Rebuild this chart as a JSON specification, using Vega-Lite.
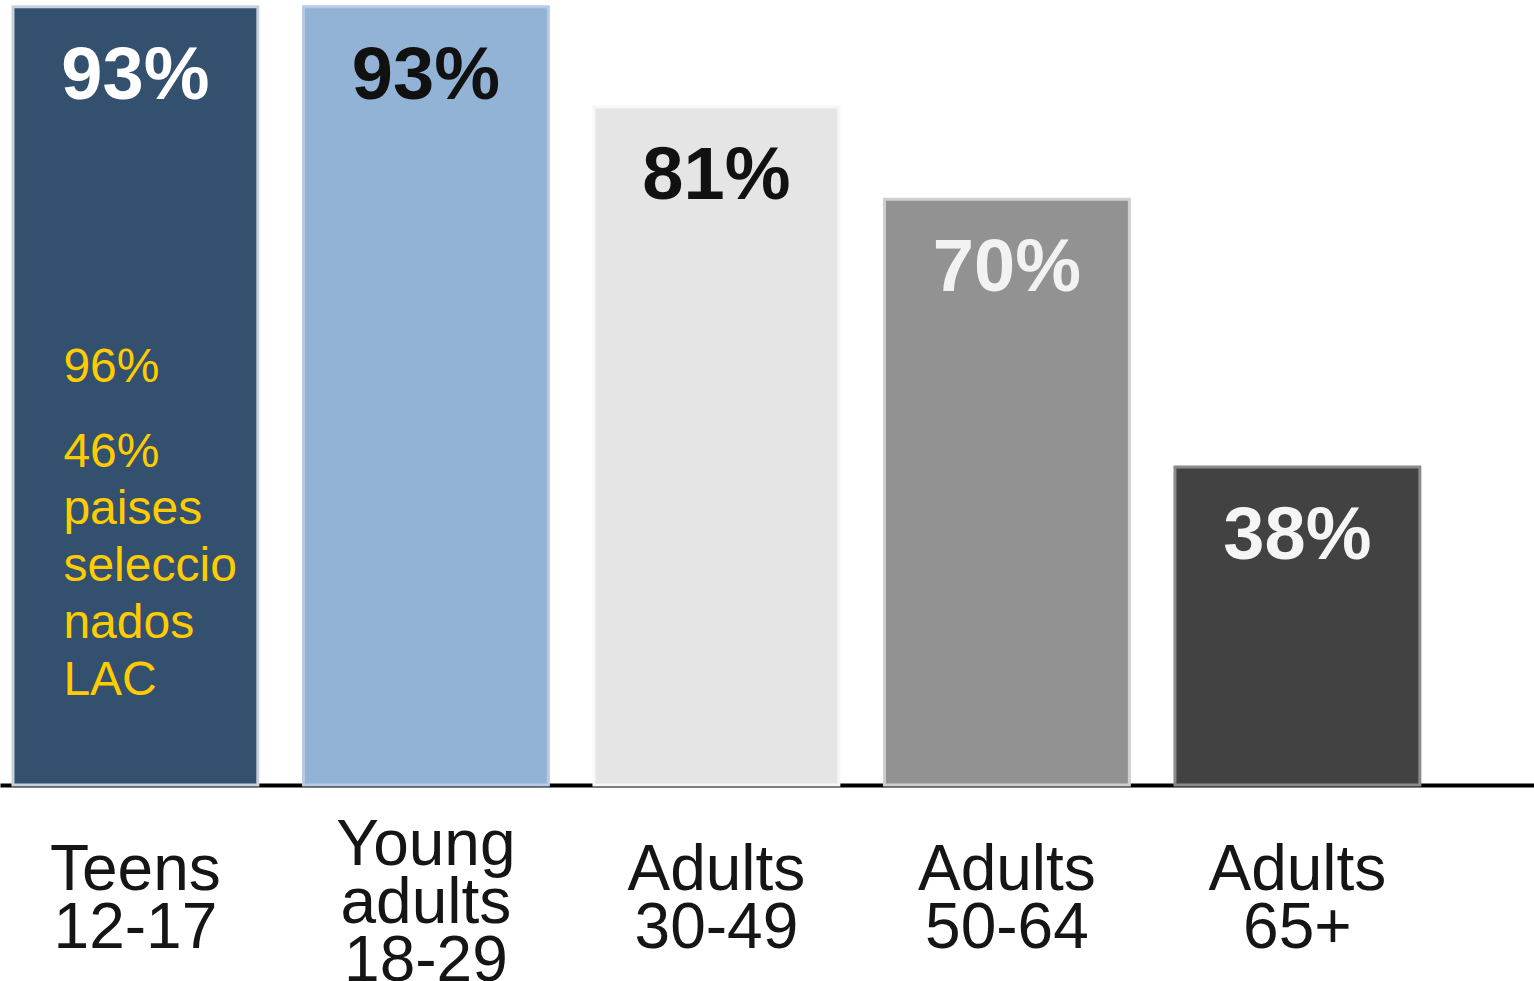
{
  "$schema": "https://vega.github.io/schema/vega-lite/v6.json",
  "width": 1534,
  "height": 785,
  "autosize": {"type": "none"},
  "padding": {"left": 0, "top": 0, "right": 0, "bottom": 196},
  "background": "white",
  "config": {"view": {"stroke": null}, "font": "Liberation Sans"},
  "data": {"values": [
    {"group": "Teens|12-17", "value": 93, "label": "93%", "note1": "96%", "note2": "46%|paises|seleccio|nados|LAC"},
    {"group": "Young|adults|18-29", "value": 93, "label": "93%"},
    {"group": "Adults|30-49", "value": 81, "label": "81%"},
    {"group": "Adults|50-64", "value": 70, "label": "70%"},
    {"group": "Adults|65+", "value": 38, "label": "38%"}
  ]},
  "encoding": {
    "x": {
      "field": "group", "type": "nominal", "sort": null,
      "scale": {"paddingInner": 0.157, "paddingOuter": 0.2188, "align": 0.102},
      "axis": {
        "title": null, "ticks": false, "domainColor": "#000000", "domainWidth": 4,
        "labelAngle": 0, "labelExpr": "split(datum.label, '|')",
        "labelFont": "Liberation Sans", "labelFontSize": 64, "labelLineHeight": 58,
        "labelColor": "#151515", "labelBaseline": "middle",
        "labelPadding": {"condition": {"test": "datum.value === 'Young|adults|18-29'", "value": 60}, "value": 85},
        "labelLimit": 0, "labelOverlap": false
      }
    },
    "y": {"field": "value", "type": "quantitative", "scale": {"domain": [0, 93.8]}, "axis": null}
  },
  "layer": [
    {
      "mark": {"type": "bar", "strokeWidth": 3},
      "encoding": {
        "color": {
          "field": "group", "type": "nominal", "legend": null,
          "scale": {
            "domain": ["Teens|12-17", "Young|adults|18-29", "Adults|30-49", "Adults|50-64", "Adults|65+"],
            "range": ["#34506F", "#93B3D6", "#E5E5E5", "#929292", "#424242"]
          }
        },
        "stroke": {
          "field": "group", "type": "nominal", "legend": null,
          "scale": {
            "domain": ["Teens|12-17", "Young|adults|18-29", "Adults|30-49", "Adults|50-64", "Adults|65+"],
            "range": ["#C9D2DC", "#B7CCE3", "#F7F7F7", "#CFCFCF", "#8A8A8A"]
          }
        }
      }
    },
    {
      "mark": {"type": "text", "baseline": "alphabetic", "dy": 92, "fontSize": 74, "fontWeight": "bold", "font": "Liberation Sans"},
      "encoding": {
        "text": {"field": "label"},
        "color": {
          "field": "group", "type": "nominal", "legend": null,
          "scale": {
            "domain": ["Teens|12-17", "Young|adults|18-29", "Adults|30-49", "Adults|50-64", "Adults|65+"],
            "range": ["#FFFFFF", "#111111", "#111111", "#F2F2F2", "#F5F5F5"]
          }
        }
      }
    },
    {
      "transform": [{"filter": "isValid(datum.note1)"}],
      "mark": {"type": "text", "align": "left", "baseline": "alphabetic", "dx": -72, "fontSize": 48, "font": "Liberation Sans", "fill": "#FFCC00"},
      "encoding": {
        "y": {"datum": 48.15, "type": "quantitative"},
        "text": {"field": "note1", "type": "nominal"}
      }
    },
    {
      "transform": [{"filter": "isValid(datum.note2)"}],
      "mark": {"type": "text", "align": "left", "baseline": "alphabetic", "dx": -72, "fontSize": 48, "font": "Liberation Sans", "fill": "#FFCC00", "lineBreak": "|", "lineHeight": 57},
      "encoding": {
        "y": {"datum": 38.0, "type": "quantitative"},
        "text": {"field": "note2", "type": "nominal"}
      }
    }
  ],
  "resolve": {"scale": {"color": "independent"}}
}
